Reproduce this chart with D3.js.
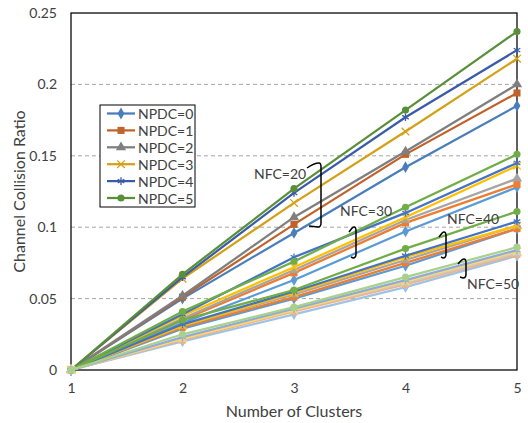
<!DOCTYPE html>
<meta charset="UTF-8">
<style>
    body { margin: 0; background: #fff; }
    text { font-family: Lato, "Open Sans", sans-serif; fill: #404040; }
    .grid line { stroke: #a6a6a6; stroke-dasharray: 4,3; }
    .line { fill: none; stroke-width: 2.25px; }
</style>
<body>
<div id="chart"></div>
<script src="https://d3js.org/d3.v7.min.js"></script>
<script>

// data
var clusters = [1, 2, 3, 4, 5];
var npdcLabels = ["NPDC=0", "NPDC=1", "NPDC=2", "NPDC=3", "NPDC=4", "NPDC=5"];
var yTicks = [0, 0.05, 0.1, 0.15, 0.2, 0.25];

var nfc20 = [
    [0, 0.050, 0.096, 0.142, 0.185],
    [0, 0.051, 0.102, 0.151, 0.194],
    [0, 0.052, 0.107, 0.153, 0.200],
    [0, 0.064, 0.117, 0.167, 0.218],
    [0, 0.065, 0.124, 0.177, 0.224],
    [0, 0.067, 0.127, 0.182, 0.237]
];
var nfc30 = [
    [0, 0.033, 0.063, 0.097, 0.128],
    [0, 0.035, 0.068, 0.103, 0.130],
    [0, 0.036, 0.070, 0.105, 0.134],
    [0, 0.038, 0.072, 0.107, 0.143],
    [0, 0.039, 0.079, 0.110, 0.145],
    [0, 0.041, 0.076, 0.114, 0.151]
];
var nfc40 = [
    [0, 0.029, 0.050, 0.073, 0.099],
    [0, 0.030, 0.051, 0.075, 0.099],
    [0, 0.031, 0.053, 0.077, 0.101],
    [0, 0.031, 0.054, 0.079, 0.101],
    [0, 0.032, 0.055, 0.080, 0.104],
    [0, 0.035, 0.056, 0.085, 0.111]
];
var nfc50 = [
    [0, 0.020, 0.039, 0.058, 0.080],
    [0, 0.021, 0.041, 0.060, 0.081],
    [0, 0.022, 0.042, 0.061, 0.082],
    [0, 0.022, 0.042, 0.062, 0.083],
    [0, 0.023, 0.043, 0.063, 0.084],
    [0, 0.025, 0.044, 0.065, 0.086]
];

// colours per group (darker, normal, normal, lighter)
var darkColors  = ["#4a7ebb", "#c0622a", "#7f7f7f", "#d4a017", "#3a5ba8", "#5a8f3a"];
var midColors   = ["#5b9bd5", "#ed7d31", "#a5a5a5", "#ffc000", "#4472c4", "#70ad47"];
var lightColors = ["#9dc3e6", "#f4b183", "#c9c9c9", "#ffd966", "#8faadc", "#a9d18e"];

var groups = [
    {values: nfc20, colors: darkColors},
    {values: nfc30, colors: midColors},
    {values: nfc40, colors: midColors},
    {values: nfc50, colors: lightColors}
];

var symbols = [d3.symbolDiamond, d3.symbolSquare, d3.symbolTriangle,
               d3.symbolTimes, d3.symbolAsterisk, d3.symbolCircle];
var symSizes = [40, 50, 45, 40, 40, 40];
var stroked = [false, false, false, true, true, false];

// set the dimensions and margins of the graph
var margin = {top: 13, right: 11, bottom: 53, left: 71},
    width = 528 - margin.left - margin.right,
    height = 423 - margin.top - margin.bottom;

var x = d3.scaleLinear().domain([1, 5]).range([0, width]);
var y = d3.scaleLinear().domain([0, 0.25]).range([height, 0]);

var svg = d3.select("#chart").append("svg")
    .attr("width", 528)
    .attr("height", 423)
  .append("g")
    .attr("transform", "translate(" + margin.left + "," + margin.top + ")");

// gridlines
svg.append("g")
    .attr("class", "grid")
  .selectAll("line")
    .data(yTicks.slice(1, 5))
  .enter().append("line")
    .attr("x1", 0).attr("x2", width)
    .attr("y1", function(d) { return y(d); })
    .attr("y2", function(d) { return y(d); });

// frame
svg.append("rect")
    .attr("width", width).attr("height", height)
    .attr("fill", "none").attr("stroke", "#000").attr("stroke-width", 1.25);

// axes
var xAxis = svg.append("g")
    .attr("transform", "translate(0," + height + ")")
    .call(d3.axisBottom(x).tickValues(clusters).tickFormat(d3.format("d")).tickSize(0).tickPadding(13));
var yAxis = svg.append("g")
    .call(d3.axisLeft(y).tickValues(yTicks).tickFormat(function(d) { return d === 0 ? "0" : String(+d.toFixed(2)); })
        .tickSize(0).tickPadding(14));
[xAxis, yAxis].forEach(function(a) {
    a.select(".domain").remove();
    a.selectAll("text").attr("font-size", 14).attr("fill", "#404040")
        .attr("font-family", "Lato, 'Open Sans', sans-serif");
});

// axis titles
svg.append("text")
    .attr("x", width / 2).attr("y", height + 47)
    .attr("text-anchor", "middle").attr("font-size", 16)
    .text("Number of Clusters");
svg.append("text")
    .attr("transform", "translate(" + (18 - margin.left) + "," + (height / 2) + ") rotate(-90)")
    .attr("text-anchor", "middle").attr("dominant-baseline", "central").attr("font-size", 16)
    .text("Channel Collision Ratio");

var line = d3.line()
    .x(function(d, i) { return x(clusters[i]); })
    .y(function(d) { return y(d); });

function marker(sel, k, color) {
    sel.attr("d", d3.symbol().type(symbols[k]).size(symSizes[k])())
        .attr("fill", stroked[k] ? "none" : color)
        .attr("stroke", stroked[k] ? color : "none")
        .attr("stroke-width", 1.3);
}

// draw the series, NFC=20 first, NFC=50 last
groups.forEach(function(g) {
    g.values.forEach(function(vals, k) {
        var color = g.colors[k];
        svg.append("path")
            .datum(vals)
            .attr("class", "line")
            .attr("stroke", color)
            .attr("d", line);
        svg.selectAll(null)
            .data(vals)
          .enter().append("path")
            .attr("transform", function(d, i) { return "translate(" + x(clusters[i]) + "," + y(d) + ")"; })
            .call(marker, k, color);
    });
});

// annotations
var notes = [
    {label: "NFC=20", tx: 254, ty: 173, bx: 321, y0: 163, y1: 227, hook: 14},
    {label: "NFC=30", tx: 340, ty: 210, bx: 356, y0: 227, y1: 258, hook: 7},
    {label: "NFC=40", tx: 447, ty: 218, bx: 446, y0: 232, y1: 258, hook: 7},
    {label: "NFC=50", tx: 467, ty: 283, bx: 466, y0: 259, y1: 278, hook: 8}
];
var root = d3.select("svg");
notes.forEach(function(n) {
    root.append("text")
        .attr("x", n.tx).attr("y", n.ty)
        .attr("dominant-baseline", "central")
        .attr("font-size", 14).attr("fill", "#000")
        .text(n.label);
    var p = d3.path();
    p.moveTo(n.bx - n.hook, n.y0 + 5);
    p.quadraticCurveTo(n.bx - n.hook / 2, n.y0, n.bx - 2, n.y0);
    p.quadraticCurveTo(n.bx, n.y0, n.bx, n.y0 + 4);
    p.lineTo(n.bx, n.y1 - 4);
    p.quadraticCurveTo(n.bx, n.y1, n.bx - 3, n.y1);
    p.lineTo(n.bx - n.hook + 2, n.y1 - 1);
    root.append("path")
        .attr("d", p.toString())
        .attr("fill", "none").attr("stroke", "#000").attr("stroke-width", 1.5);
});

// legend
var legend = root.append("g").attr("transform", "translate(100,105)");
legend.append("rect")
    .attr("width", 95).attr("height", 102)
    .attr("fill", "#fff").attr("stroke", "#000").attr("stroke-width", 1);
npdcLabels.forEach(function(label, k) {
    var row = legend.append("g").attr("transform", "translate(0," + (8.5 + k * 16.9) + ")");
    row.append("line")
        .attr("x1", 7).attr("x2", 35)
        .attr("stroke", darkColors[k]).attr("stroke-width", 2.25);
    row.append("path")
        .attr("transform", "translate(21,0)")
        .call(marker, k, darkColors[k]);
    row.append("text")
        .attr("x", 38).attr("dominant-baseline", "central")
        .attr("font-size", 14).attr("fill", "#000")
        .text(label);
});

</script>
</body>
